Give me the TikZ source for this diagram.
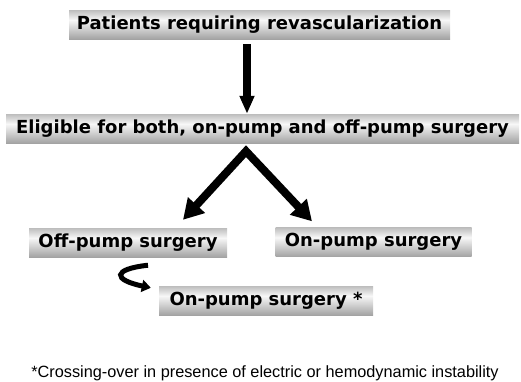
\documentclass[tikz,border=0pt]{standalone}
\usepackage{fontspec}
\setmainfont{DejaVu Sans}
\newfontfamily\notefont{Liberation Sans}
\usetikzlibrary{arrows.meta, calc}

\pgfdeclareverticalshading{boxshade}{100bp}{color(0bp)=(black!36); color(25bp)=(black!36); color(58bp)=(black!3); color(75bp)=(black!26); color(100bp)=(black!26)}

\begin{document}
\begin{tikzpicture}[x=1pt, y=-1pt, >={Triangle[length=18pt, width=14pt]}]
\tikzstyle{box}=[shading=boxshade, inner sep=0pt, minimum height=29pt, font=\fontsize{18}{21}\selectfont\bfseries];
\tikzstyle{flow}=[line width=8pt];
\useasboundingbox (0,0) rectangle (521,381);
\node[box, minimum width=381pt] (patients) at (259.5,24.5) {Patients requiring revascularization};
\node[box, minimum width=513pt] (eligible) at (262.5,128.5) {Eligible for both, on-pump and off-pump surgery};
\node[box, minimum width=198pt] (offpump) at (128,242.5) {Off-pump surgery};
\node[box, minimum width=196pt] (onpump) at (373.5,242) {On-pump surgery};
\node[box, minimum width=214pt] (crossover) at (266,300.5) {On-pump surgery *};
\node[font=\notefont\fontsize{16.3}{18}\selectfont] (note) at (265,373) {*Crossing-over in presence of electric or hemodynamic instability};
% arrows between the boxes
\coordinate (apex) at ([xshift=-16.5pt, yshift=-8pt]eligible.south);
\coordinate (offtip) at ([xshift=55pt, yshift=8pt]offpump.north);
\coordinate (ontip) at ([xshift=-61.5pt, yshift=6pt]onpump.north);
\coordinate (cstart) at ([xshift=20pt, yshift=-8pt]offpump.south);
\coordinate (ctip) at ([xshift=-8pt, yshift=-2pt]crossover.north west);
\draw[flow, ->] ([xshift=-12.5pt, yshift=-5pt]patients.south) -- ([xshift=-15.5pt]eligible.north);
\draw[flow, line join=miter, {Triangle[length=20pt, width=22pt]}-{Triangle[length=20pt, width=22pt]}] (offtip) -- (apex) -- (ontip);
\draw[line width=5pt, -{Triangle[length=9pt, width=12pt]}] (cstart) .. controls ($(cstart)+(-36,4)$) and ($(ctip)+(-38,-8)$) .. (ctip);
\end{tikzpicture}
\end{document}
